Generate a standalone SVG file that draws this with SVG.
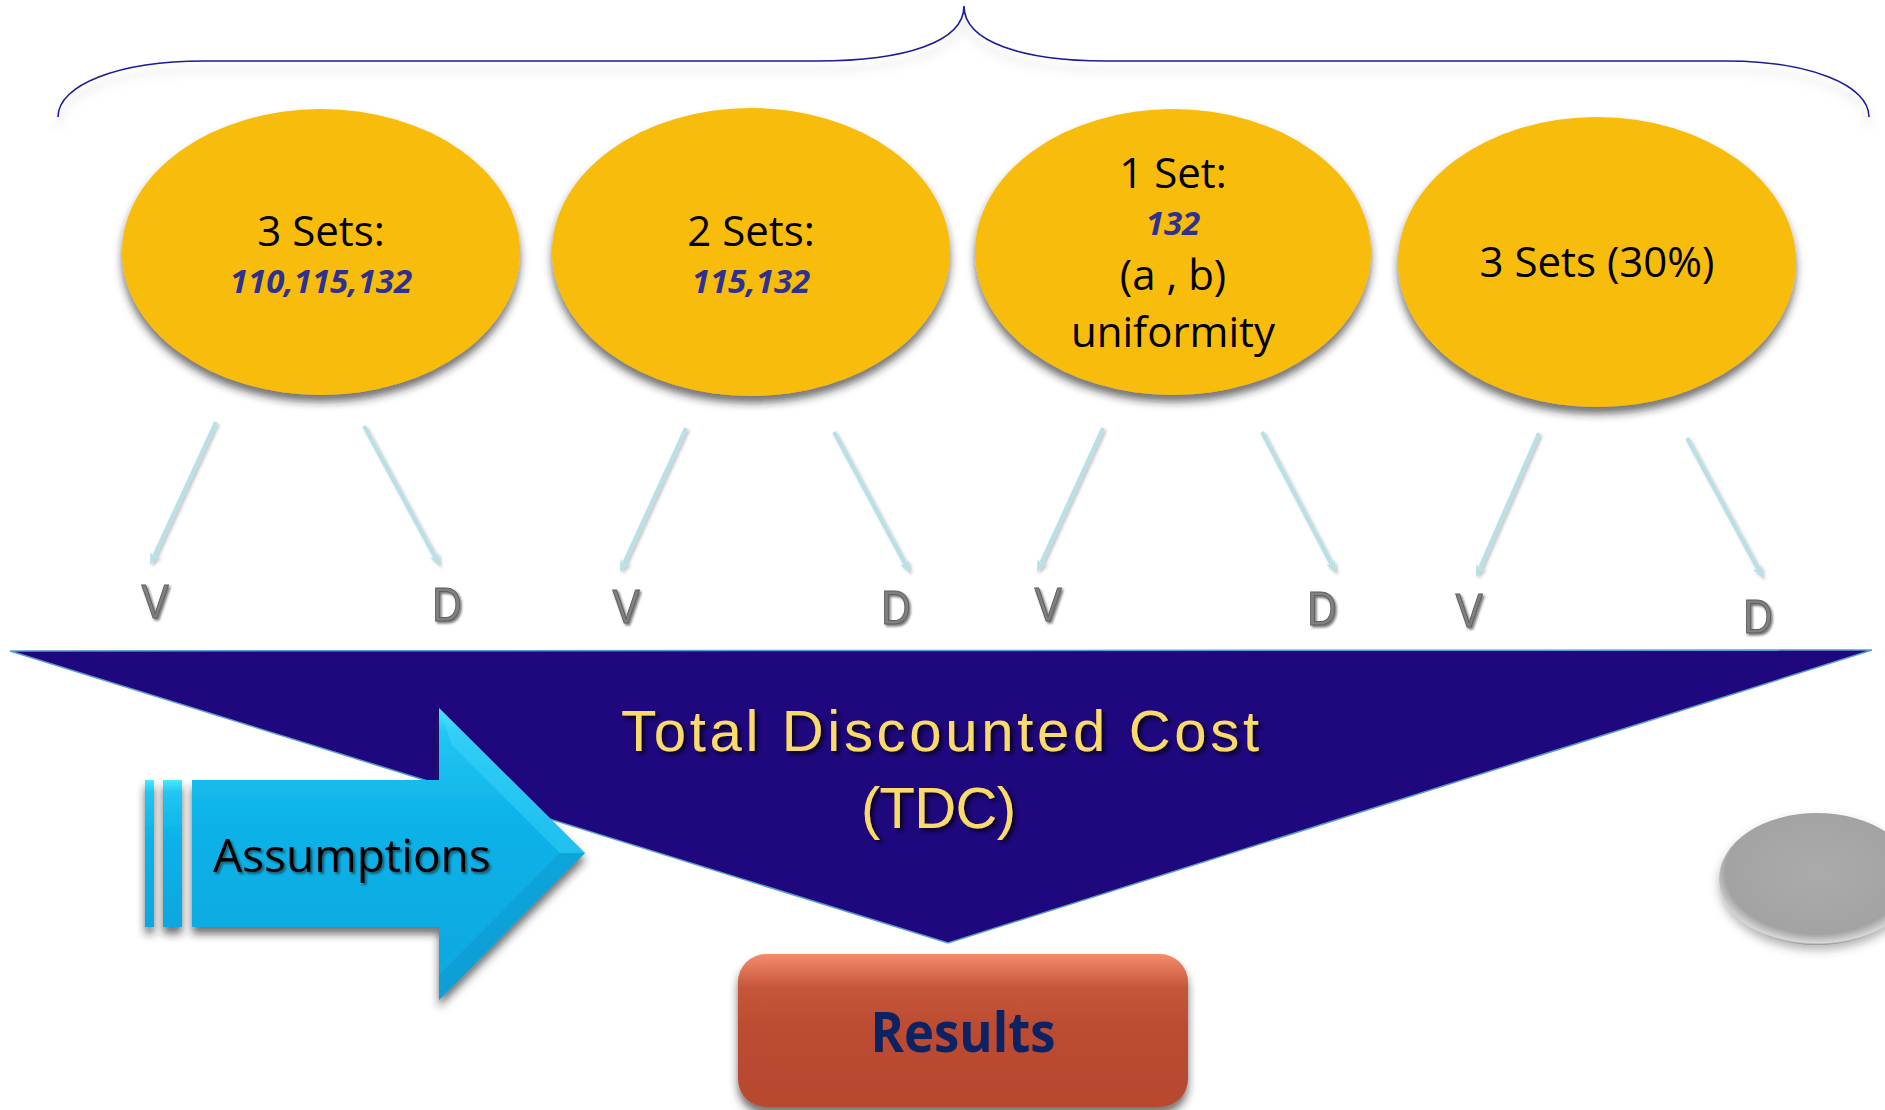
<svg xmlns="http://www.w3.org/2000/svg" width="1885" height="1110" viewBox="0 0 1885 1110">
  <defs>
    <filter id="softShadow" x="-10%" y="-20%" width="120%" height="150%">
      <feDropShadow dx="0" dy="7" stdDeviation="4" flood-color="#222" flood-opacity="0.65"/>
    </filter>
    <filter id="discShadow" x="-10%" y="-20%" width="120%" height="150%">
      <feDropShadow dx="0" dy="5" stdDeviation="5" flood-color="#444" flood-opacity="0.4"/>
    </filter>
    <filter id="braceShadow" x="-5%" y="-20%" width="110%" height="160%">
      <feDropShadow dx="0" dy="9" stdDeviation="4" flood-color="#999" flood-opacity="0.5"/>
    </filter>
    <filter id="lineShadow" x="-30%" y="-10%" width="160%" height="120%">
      <feDropShadow dx="2" dy="2" stdDeviation="1.5" flood-color="#555" flood-opacity="0.35"/>
    </filter>
    <filter id="textShadow" x="-10%" y="-30%" width="120%" height="160%">
      <feDropShadow dx="3" dy="3" stdDeviation="2" flood-color="#000" flood-opacity="0.75"/>
    </filter>
    <filter id="letterShadow" x="-30%" y="-30%" width="160%" height="160%">
      <feDropShadow dx="2" dy="2" stdDeviation="1.2" flood-color="#222" flood-opacity="0.6"/>
    </filter>
    <linearGradient id="cyanBody" x1="0" y1="0" x2="0" y2="1">
      <stop offset="0" stop-color="#4AE8FF"/>
      <stop offset="0.08" stop-color="#22C6F2"/>
      <stop offset="0.4" stop-color="#0BB2E8"/>
      <stop offset="1" stop-color="#09A7DE"/>
    </linearGradient>
    <linearGradient id="redBody" x1="0" y1="0" x2="0" y2="1">
      <stop offset="0" stop-color="#F48C6C"/>
      <stop offset="0.22" stop-color="#C5563A"/>
      <stop offset="0.5" stop-color="#BB4C31"/>
      <stop offset="1" stop-color="#B7492F"/>
    </linearGradient>
    <radialGradient id="greyDisc" cx="0.5" cy="0.45" r="0.55">
      <stop offset="0" stop-color="#ABABAB"/>
      <stop offset="0.85" stop-color="#A3A3A3"/>
      <stop offset="0.97" stop-color="#D8D8D8"/>
      <stop offset="1" stop-color="#8E8E8E"/>
    </radialGradient>
    <marker id="head" viewBox="0 0 12 10" refX="2" refY="5" markerWidth="12" markerHeight="10" markerUnits="userSpaceOnUse" orient="auto">
      <path d="M0,0 L12,5 L0,10 L3,5 z" fill="#B7E1E6"/>
    </marker>
    <style>
      .set { fill: #F8BC09; filter: url(#softShadow); }
      .lbl { font-family: "Open Sans", "Liberation Sans", sans-serif; font-size: 42px; fill: #000; text-anchor: middle; }
      .num { font-family: "Open Sans", "Liberation Sans", sans-serif; font-size: 33px; font-weight: bold; font-style: italic; fill: #2E3190; text-anchor: middle; }
      .conn { stroke: #B7E1E6; stroke-width: 4; fill: none; marker-end: url(#head); }
      .vd { font-family: "Liberation Sans", Arial, sans-serif; font-size: 48px; fill: #808080; stroke: #5E5E5E; stroke-width: 1; text-anchor: middle; filter: url(#letterShadow); }
      .tdc { font-family: "Liberation Sans", Arial, sans-serif; font-size: 58px; fill: #FADB6A; filter: url(#textShadow); }
    </style>
  </defs>

  <rect width="1885" height="1110" fill="#FFFFFF"/>

  <!-- curly brace over the four sets -->
  <g id="brace" filter="url(#braceShadow)">
    <path d="M58,117 C58,85 118,61 204,61 L817,61 C905,61 964,42 964,6 C964,42 1023,61 1106,61 L1725,61 C1810,61 1869,85 1869,117" fill="none" stroke="#1A1A9C" stroke-width="1.6"/>
  </g>

  <!-- set ellipses -->
  <g id="set1">
    <ellipse class="set" cx="321" cy="252" rx="199" ry="143"/>
    <text class="lbl" x="321" y="246">3 Sets:</text>
    <text class="num" x="321" y="293">110,115,132</text>
  </g>
  <g id="set2">
    <ellipse class="set" cx="751" cy="252" rx="199" ry="144"/>
    <text class="lbl" x="751" y="246">2 Sets:</text>
    <text class="num" x="751" y="293">115,132</text>
  </g>
  <g id="set3">
    <ellipse class="set" cx="1173" cy="252" rx="198" ry="143"/>
    <text class="lbl" x="1173" y="188">1 Set:</text>
    <text class="num" x="1173" y="235">132</text>
    <text class="lbl" x="1173" y="290">(a , b)</text>
    <text class="lbl" x="1173" y="347">uniformity</text>
  </g>
  <g id="set4">
    <ellipse class="set" cx="1597" cy="262" rx="199" ry="145"/>
    <text class="lbl" x="1597" y="277">3 Sets (30%)</text>
  </g>

  <!-- V / D connectors -->
  <g id="connectors" filter="url(#lineShadow)">
    <line class="conn" x1="216" y1="422" x2="154.2" y2="555.9"/>
    <line class="conn" x1="364" y1="426" x2="435.2" y2="557.2"/>
    <line class="conn" x1="686" y1="428" x2="624.2" y2="562.9"/>
    <line class="conn" x1="834" y1="432" x2="905.3" y2="564.2"/>
    <line class="conn" x1="1103" y1="428" x2="1041.2" y2="562.9"/>
    <line class="conn" x1="1262" y1="432" x2="1331.4" y2="564.1"/>
    <line class="conn" x1="1539" y1="433" x2="1480" y2="567.8"/>
    <line class="conn" x1="1687" y1="438" x2="1758.2" y2="569.2"/>
  </g>

  <!-- V / D labels -->
  <g id="labels-vd">
    <text class="vd" transform="translate(155,618) scale(0.85,1)">V</text>
    <text class="vd" transform="translate(447,621) scale(0.85,1)">D</text>
    <text class="vd" transform="translate(626,623) scale(0.85,1)">V</text>
    <text class="vd" transform="translate(896,624) scale(0.85,1)">D</text>
    <text class="vd" transform="translate(1048,621) scale(0.85,1)">V</text>
    <text class="vd" transform="translate(1322,625) scale(0.85,1)">D</text>
    <text class="vd" transform="translate(1469,627) scale(0.85,1)">V</text>
    <text class="vd" transform="translate(1758,633) scale(0.85,1)">D</text>
  </g>

  <!-- total discounted cost funnel -->
  <g id="tdc">
    <polygon points="10,651 1872,650 948,943" fill="#1F077D" stroke="#5B9BD5" stroke-width="1.5" stroke-linejoin="miter"/>
    <text class="tdc" x="621" y="751" textLength="638" lengthAdjust="spacing">Total Discounted Cost</text>
    <text class="tdc" x="861" y="828" textLength="155" lengthAdjust="spacing">(TDC)</text>
  </g>

  <!-- assumptions arrow -->
  <g id="assumptions" filter="url(#softShadow)">
    <rect x="145" y="780" width="9" height="147" fill="url(#cyanBody)"/>
    <rect x="163" y="780" width="19" height="147" fill="url(#cyanBody)"/>
    <polygon points="192,780 439,780 439,708 585,853 439,1000 439,927 192,927" fill="url(#cyanBody)"/>
    <polygon points="439,708 585,853 560,853 452,745" fill="#4FE0FF" opacity="0.35"/>
    <polygon points="585,853 439,1000 439,975 560,853" fill="#0790C4" opacity="0.35"/>
    <text x="213" y="872" font-family="'Open Sans', 'Liberation Sans', sans-serif" font-size="46" fill="#000" filter="url(#letterShadow)">Assumptions</text>
  </g>

  <!-- results box -->
  <g id="results">
    <rect x="738" y="954" width="450" height="153" rx="28" ry="28" fill="url(#redBody)" filter="url(#softShadow)"/>
    <text x="963" y="1052" font-family="'Open Sans', 'Liberation Sans', sans-serif" font-size="56" font-weight="bold" fill="#0D2263" text-anchor="middle" textLength="185" lengthAdjust="spacingAndGlyphs">Results</text>
  </g>

  <!-- grey disc at right edge -->
  <g id="grey-disc">
    <ellipse cx="1817" cy="879" rx="98" ry="66" fill="url(#greyDisc)" filter="url(#discShadow)"/>
  </g>
</svg>
